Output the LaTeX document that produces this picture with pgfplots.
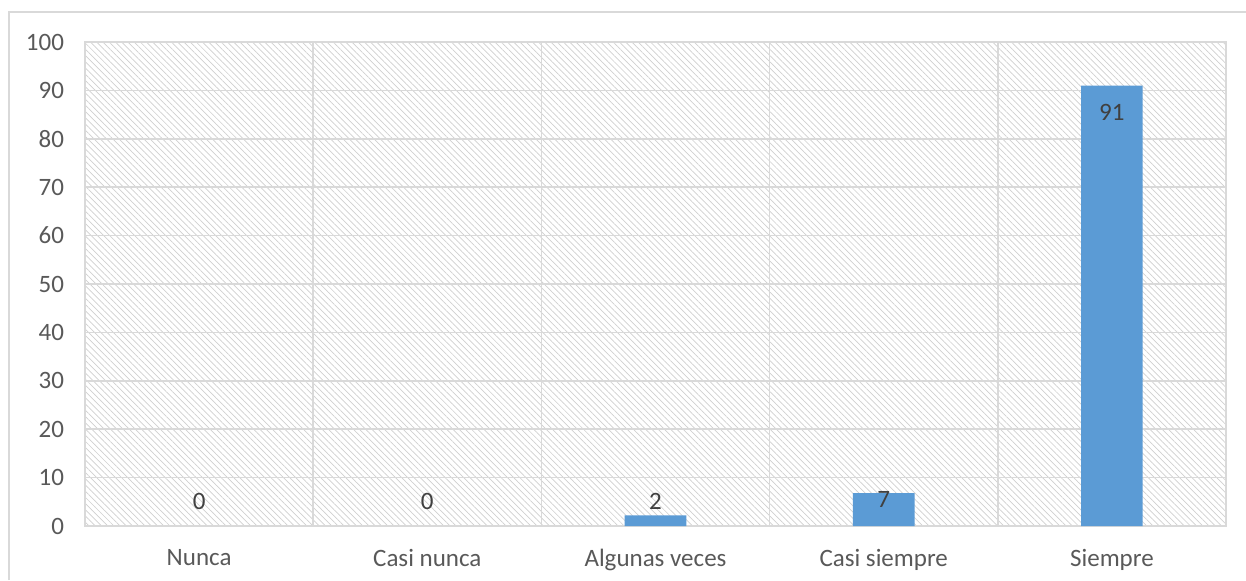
\documentclass[border=0pt]{standalone}
\usepackage{pgfplots}
\pgfplotsset{compat=1.18}
\usepackage{fontspec}
\setmainfont{Carlito}
\usetikzlibrary{patterns.meta}
\definecolor{barblue}{HTML}{5B9BD5}
\definecolor{gridgray}{HTML}{D9D9D9}
\definecolor{txtgray}{HTML}{595959}
\definecolor{lblgray}{HTML}{404040}
\definecolor{hatch}{HTML}{D0D0D0}
\begin{document}
\begin{tikzpicture}
\useasboundingbox (0,0) rectangle (623pt,290pt);
\draw[gridgray, line width=0.75pt] (4.5pt,0) -- (4.5pt,284pt) -- (623pt,284pt);
\begin{axis}[
  at={(42.5pt,27pt)}, anchor=south west,
  scale only axis,
  width=570.5pt, height=242pt,
  xmin=-0.5, xmax=4.5,
  ymin=0, ymax=100,
  ytick={0,10,...,100},
  xtick={0,1,2,3,4},
  xticklabels={Nunca,Casi nunca,Algunas veces,Casi siempre,Siempre},
  minor xtick={0.5,1.5,2.5,3.5},
  ymajorgrids, xminorgrids,
  grid style={gridgray, line width=0.75pt},
  minor grid style={gridgray, line width=0.75pt},
  axis line style={gridgray, line width=0.75pt},
  major tick length=0pt, minor tick length=0pt,
  tick style={draw=none},
  ticklabel style={font=\fontsize{12.5}{14}\selectfont, text=txtgray},
  /pgf/number format/assume math mode=true,
  xticklabel style={yshift=-8pt},
  yticklabel style={xshift=-7pt},
  axis background/.style={preaction={fill=white}, pattern={Lines[angle=-45, distance=2.2pt, line width=0.35pt]}, pattern color=hatch},
  clip=false,
]
\addplot[ybar, bar width=0.27, fill=barblue, draw=none, bar shift=0pt]
  coordinates {(2,2.2) (3,6.8) (4,91)};
\addplot[draw=none, mark=none, nodes near coords, point meta=explicit symbolic,
  nodes near coords align=center,
  every node near coord/.append style={font=\fontsize{12.5}{14}\selectfont, text=lblgray}]
  coordinates {(0,5)[0] (1,5)[0] (2,5)[2] (3,5.5)[7] (4,85.5)[91]};
\end{axis}
\end{tikzpicture}
\end{document}
